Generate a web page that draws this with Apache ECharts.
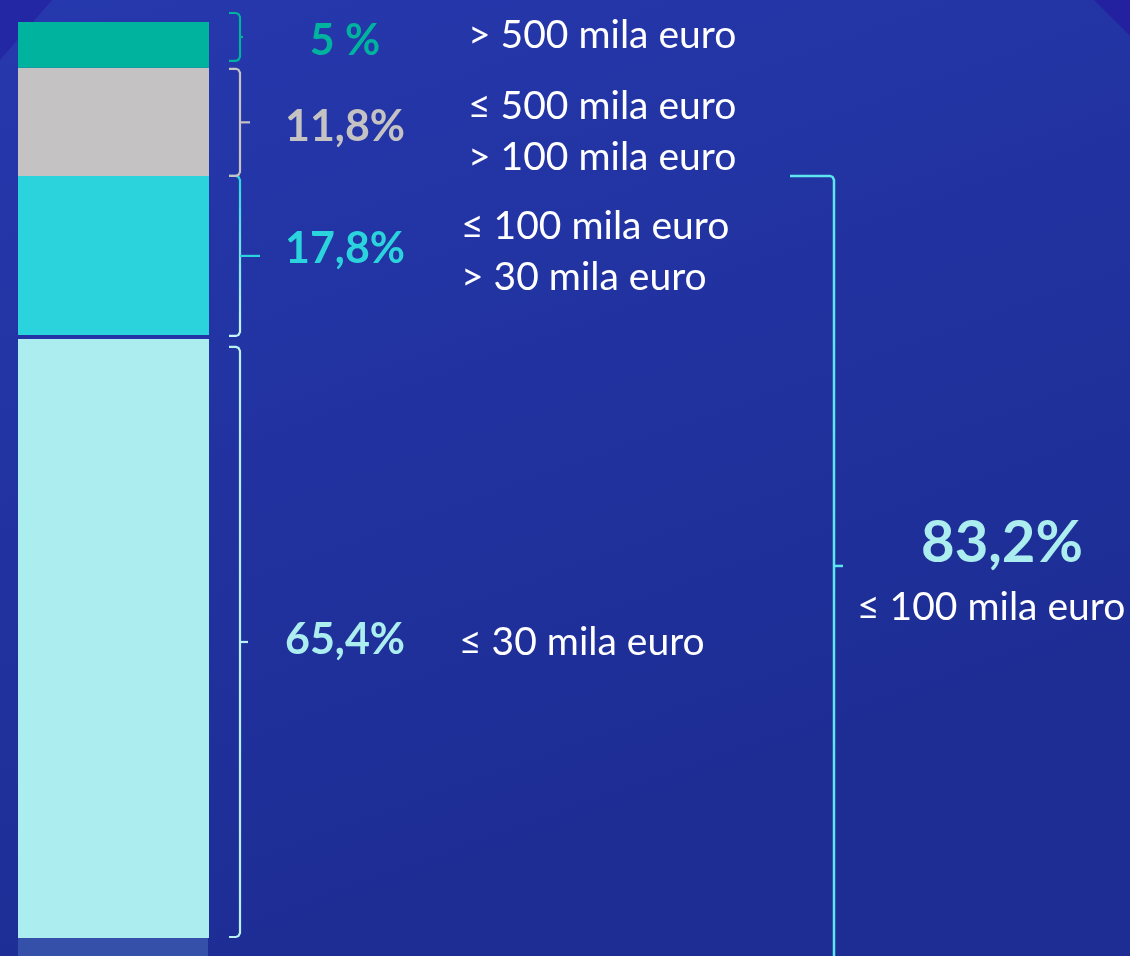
<!DOCTYPE html>
<html>
<head>
<meta charset="utf-8">
<script src="https://cdn.jsdelivr.net/npm/echarts@6/dist/echarts.min.js"></script>
<style>
html, body { margin: 0; padding: 0; background: #1f2f9a; }
#main { width: 1130px; height: 956px; }
</style>
</head>
<body>
<div id="main"></div>
<script>
// stacked from the bottom up
var segNames = ['65,4', '17,8', '11,8', '5'];
var segValues = [65.4, 17.8, 11.8, 5];
var segLabels = ['65,4%', '17,8%', '11,8%', '5 %'];
var segRanges = [
  ['≤ 30 mila euro'],
  ['≤ 100 mila euro', '> 30 mila euro'],
  ['≤ 500 mila euro', '> 100 mila euro'],
  ['> 500 mila euro']
];
var segColors = ['#aceeef', '#2bd4dc', '#c4c2c3', '#00b39f'];
var totalValue = 83.2;
var totalLabel = '83,2%';
var totalRange = '≤ 100 mila euro';

var chartDom = document.getElementById('main');
var myChart = echarts.init(chartDom, null, { renderer: 'canvas' });
var FONT = 'Lato, "Open Sans", sans-serif';

var option = {
  animation: false,
  backgroundColor: new echarts.graphic.LinearGradient(0, 0, 0.3, 1, [
    { offset: 0, color: '#2638ad' }, { offset: 1, color: '#1d2d94' }
  ]),
  grid: { left: 18, right: 921, top: 22, bottom: 18 },
  xAxis: { type: 'category', data: ['tot'], show: false },
  yAxis: { type: 'value', min: 0, max: 100, show: false },
  series: segValues.map(function (v, i) {
    return {
      name: segNames[i],
      type: 'bar',
      stack: 'all',
      barWidth: '100%',
      data: [v],
      itemStyle: { color: segColors[i] },
      silent: true
    };
  })
};
myChart.setOption(option);

function py(v) { return myChart.convertToPixel({ yAxisIndex: 0 }, v); }

// per segment tweaks: brace top/bottom inset, tick length, text shift
var braceTop = [8, 0, 1, -9];
var braceBot = [1, 3, 0, 7];
var tickLen = [8, 20, 10, 3];
var textDy = [4, -5, 10, -9];
var pctDy = [2, -8, 5, -4];
var rangeX = [459, 461, 468, 468];
var braceColors = [
  '#b9f1f3',
  new echarts.graphic.LinearGradient(0, 0, 0, 1, [
    { offset: 0, color: '#2bd4dc' }, { offset: 1, color: '#c8f6f8' }
  ]),
  '#c4c2c3',
  '#00b39f'
];

var g = [];
var lx = 18, rx = 209;

// dark corners
g.push({ type: 'polygon', shape: { points: [[0, 0], [52, 0], [0, 60]] }, style: { fill: '#2427a3' }, z: 1 });
g.push({ type: 'polygon', shape: { points: [[1094, 0], [1130, 0], [1130, 36]] }, style: { fill: '#2321a0' }, z: 1 });
// soft band under the bar
g.push({ type: 'rect', shape: { x: lx, y: py(0), width: rx - lx - 1, height: 956 - py(0) }, style: { fill: '#3550a8' }, z: 1 });

function bracePts(x0, x1, y1, y2) {
  return [[x0, y1], [x1 - 4, y1], [x1 - 1.5, y1 + 1], [x1, y1 + 4], [x1, y2 - 4], [x1 - 1.5, y2 - 1], [x1 - 4, y2], [x0, y2]];
}

var cum = 0;
segValues.forEach(function (v, i) {
  var yb = py(cum), yt = py(cum + v);
  cum += v;
  var y1 = yt + braceTop[i], y2 = yb - braceBot[i], ym = (y1 + y2) / 2;
  var x0 = 229, x1 = 240;
  g.push({ type: 'polyline', shape: { points: bracePts(x0, x1, y1, y2) }, style: { fill: null, stroke: braceColors[i], lineWidth: 2.2 }, z: 5 });
  g.push({ type: 'line', shape: { x1: x1, y1: ym, x2: x1 + tickLen[i], y2: ym }, style: { stroke: i === 1 ? '#2bd4dc' : braceColors[i], lineWidth: 2.2 }, z: 5 });

  var mid = (yt + yb) / 2;
  g.push({
    type: 'text', x: 345, y: mid + pctDy[i], z: 5,
    style: { text: segLabels[i], fill: segColors[i], font: 'bold 43px ' + FONT, align: 'center', verticalAlign: 'middle' }
  });
  var lines = segRanges[i];
  lines.forEach(function (t, k) {
    var off = (k - (lines.length - 1) / 2) * 51;
    g.push({
      type: 'text', x: rangeX[i], y: mid + textDy[i] + off, z: 5,
      style: { text: t, fill: '#ffffff', font: '39px ' + FONT, align: 'left', verticalAlign: 'middle' }
    });
  });
});

// gap between the two lower blocks
var yGap = py(segValues[0]);
g.push({ type: 'rect', shape: { x: lx, y: yGap - 4, width: rx - lx, height: 4 }, style: { fill: '#2434a6' }, z: 4 });

// big brace for the total <= 100 mila euro
var yTop = py(segValues[0] + segValues[1]);
var yTick = (yTop + 956) / 2;
g.push({
  type: 'polyline',
  shape: { points: [[790, yTop], [830, yTop], [832.5, yTop + 1], [834, yTop + 4], [834, 990]] },
  style: { fill: null, stroke: '#5ee6ee', lineWidth: 2.5 }, z: 5
});
g.push({ type: 'line', shape: { x1: 834, y1: yTick, x2: 843, y2: yTick }, style: { stroke: '#5ee6ee', lineWidth: 2.5 }, z: 5 });
g.push({
  type: 'text', x: 1002, y: yTick - 23, z: 5,
  style: { text: totalLabel, fill: '#aceeef', font: 'bold 58px ' + FONT, align: 'center', verticalAlign: 'middle' }
});
g.push({
  type: 'text', x: 857, y: yTick + 41, z: 5,
  style: { text: totalRange, fill: '#ffffff', font: '39px ' + FONT, align: 'left', verticalAlign: 'middle' }
});

myChart.setOption({ graphic: { elements: g } });
</script>
</body>
</html>
